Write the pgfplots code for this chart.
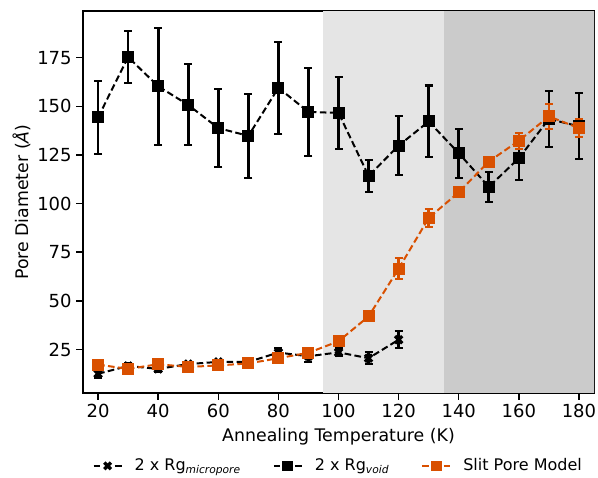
\documentclass[border=0pt]{standalone}
\usepackage{fontspec}
\setmainfont{DejaVu Sans}
\usepackage{pgfplots}
\pgfplotsset{compat=1.18}
\usetikzlibrary{calc}
\definecolor{slit}{RGB}{217,80,0}
\definecolor{shadeA}{RGB}{229,229,229}
\definecolor{shadeB}{RGB}{203,203,203}
\begin{document}
\begin{tikzpicture}
\begin{axis}[name=ax, scale only axis, width=383pt, height=286.5pt,
 xmin=15, xmax=185, ymin=2.5, ymax=199,
 xtick={20,40,...,180}, ytick={25,50,...,175},
 tick align=outside, xtick pos=bottom, ytick pos=left, major tick length=5pt,
 every tick/.style={black, line width=1.1pt},
 axis line style={line width=1.2pt},
 /pgf/number format/assume math mode=true,
 tick label style={font=\fontsize{13.5}{15}\selectfont},
 label style={font=\fontsize{13}{15}\selectfont},
 xlabel={Annealing Temperature (K)}, ylabel={Pore Diameter (\textit{Å})},
 xlabel style={yshift=-1pt},
 ylabel style={yshift=-2pt},
 legend columns=3,
 legend style={draw=none, fill=none, at={(0.5,-0.19)}, anchor=center,
   font=\fontsize{12}{14}\selectfont,
   /tikz/every odd column/.append style={column sep=7pt},
   /tikz/every even column/.append style={column sep=22pt}},
 legend image code/.code={%
   \draw[#1,solid] (0pt,0pt)--(5pt,0pt) (16pt,0pt)--(21pt,0pt);
   \draw[#1,solid,only marks,mark size=3.5pt] plot coordinates {(10.5pt,0pt)};},
 error bars/error bar style={line width=2pt, solid},
 error bars/error mark options={rotate=90, mark size=3pt, line width=1.5pt, solid},
]
\addplot[fill=shadeA, draw=none, forget plot] coordinates {(95,250) (135,250)} \closedcycle;
\addplot[fill=shadeB, draw=none, forget plot] coordinates {(135,250) (190,250)} \closedcycle;

\addplot[black, line width=1.5pt, dash pattern=on 5pt off 2.5pt, mark=x, mark size=3.8pt,
  mark options={solid, line width=2.5pt},
  error bars/.cd, y dir=both, y explicit] coordinates {
 (20,12.5) +- (0,2)
 (30,16.5) +- (0,1.5)
 (40,15) +- (0,1.5)
 (50,17.5) +- (0,1)
 (60,18.6) +- (0,1)
 (70,18.6) +- (0,1)
 (80,23.4) +- (0,2.5)
 (90,21.5) +- (0,3)
 (100,23.5) +- (0,2)
 (110,20.5) +- (0,3)
 (120,30) +- (0,4.5)
};
\addlegendentry{2 x Rg\textsubscript{\textit{micropore}}}

\addplot[black, line width=1.5pt, dash pattern=on 5pt off 2.5pt, mark=square*, mark size=4pt,
  mark options={solid, line width=1pt},
  error bars/.cd, y dir=both, y explicit] coordinates {
 (20,144.3) +- (0,18.7)
 (30,175.3) +- (0,13.4)
 (40,160.3) +- (0,30)
 (50,150.7) +- (0,20.8)
 (60,138.8) +- (0,20.2)
 (70,134.8) +- (0,21.5)
 (80,159.5) +- (0,23.7)
 (90,147.1) +- (0,22.4)
 (100,146.6) +- (0,18.4)
 (110,114.2) +- (0,8)
 (120,129.8) +- (0,15)
 (130,142.2) +- (0,18.5)
 (140,125.9) +- (0,12.5)
 (150,108.6) +- (0,7.7)
 (160,123.3) +- (0,11)
 (170,143.5) +- (0,14.5)
 (180,139.7) +- (0,17)
};
\addlegendentry{2 x Rg\textsubscript{\textit{void}}}

\addplot[slit, line width=1.5pt, dash pattern=on 5pt off 2.5pt, mark=square*, mark size=4pt,
  mark options={solid, line width=1pt},
  error bars/.cd, y dir=both, y explicit] coordinates {
 (20,17.2) +- (0,1)
 (30,15) +- (0,1)
 (40,17.4) +- (0,1)
 (50,16) +- (0,1)
 (60,16.8) +- (0,1)
 (70,17.8) +- (0,1)
 (80,20.5) +- (0,1)
 (90,23.3) +- (0,1)
 (100,29.2) +- (0,1.5)
 (110,42) +- (0,1)
 (120,66.5) +- (0,5.5)
 (130,92.6) +- (0,4.5)
 (140,105.8) +- (0,1)
 (150,121.6) +- (0,1.5)
 (160,132.3) +- (0,4)
 (170,144.8) +- (0,6.5)
 (180,138.8) +- (0,4.8)
};
\addlegendentry{Slit Pore Model}
\end{axis}
\pgfresetboundingbox
\path[use as bounding box] ($(ax.south west)+(-62.25pt,-63pt)$) rectangle ($(ax.north east)+(3pt,8.25pt)$);
\end{tikzpicture}
\end{document}
